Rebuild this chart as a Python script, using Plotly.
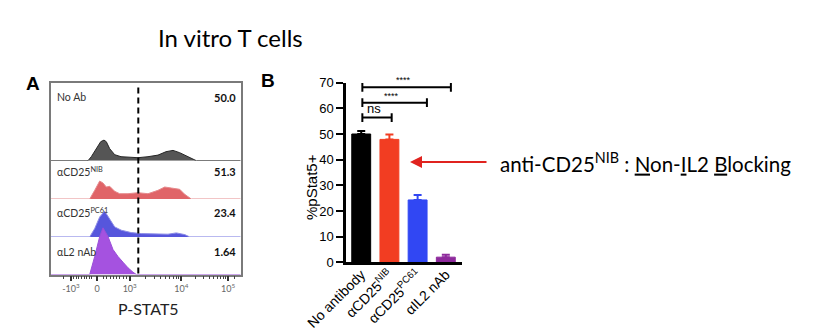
import numpy as np
import plotly.graph_objects as go

W, H = 822, 333
def px(x): return x / W
def py(y): return 1 - y / H

# ---------------- Panel A data (flow histograms, channel units / normalized counts)
hist_names = ["No Ab", "αCD25<sup>NIB</sup>", "αCD25<sup>PC61</sup>", "αL2 nAb"]
hist_pct = ["50.0", "51.3", "23.4", "1.64"]

noab_x = [0, 37.3, 40.6, 45.6, 50.0, 53.3, 55.6, 59.0, 64.0, 70.3, 77.3, 87.3, 97.3, 107.3, 115.3, 122.3, 129.0, 137.3, 145.6, 190]
noab_y = [0, 0, 4, 12, 19, 20.6, 19, 12, 6, 4, 3.3, 3, 4, 5.6, 9, 10.3, 8, 4, 0, 0]

nib_x = [0, 39.0, 44.0, 49.0, 52.3, 55.6, 59.0, 64.0, 69.0, 77.3, 87.3, 97.3, 107.3, 114.0, 120.6, 129.0, 134.0, 140.6, 190]
nib_y = [0, 0, 8.7, 18, 16, 12, 12.7, 7.7, 5.3, 5.3, 6.3, 5.3, 8.7, 12, 11, 9.7, 4.7, 0, 0]

pc61_x = [0, 39.0, 44.0, 49.0, 54.0, 59.0, 64.0, 70.6, 80.6, 90.6, 104.0, 117.3, 125.6, 134.0, 139.0, 190]
pc61_y = [0, 0, 8.3, 20, 25.7, 18.3, 10, 6.7, 4.3, 3.3, 3.3, 2.7, 4, 2.3, 0, 0]

il2_x = [0, 39.0, 44.0, 49.0, 52.3, 57.3, 62.3, 67.3, 72.3, 77.3, 82.3, 85.6, 190]
il2_y = [0, 0, 18, 38, 46.7, 38, 25, 18, 12.3, 6.7, 2.3, 0, 0]

axis_ticktext = ["-10<sup>3</sup>", "0", "10<sup>3</sup>", "10<sup>4</sup>", "10<sup>5</sup>"]
gate_channel = 87.6

# ---------------- Panel B data
categories = ["No antibody", "αCD25<sup>NIB</sup>", "αCD25<sup>PC61</sup>", "αIL2 nAb"]
pstat5 = [50.0, 47.9, 24.3, 2.0]
pstat5_err = [1.2, 1.9, 1.9, 0.9]
bar_colors = ["#000000", "#f23d22", "#3147f3", "#8e2a9c"]
comparisons = [("ns", 56.4), ("****", 62.2), ("****", 68.2)]

fig = go.Figure()

# ---------------- Panel A layout geometry
box_top, box_bot = 82.7, 274.5
xl, xr = 50.7, 240.7
baselines = [160.7, 199.0, 236.9, box_bot]
fills = ["#555555", "#e06468", "#5656dc", "#a552e0"]
lines = ["#262626", "#e58a8d", "#8d8de6", "#9a50d8"]
series = [(noab_x, noab_y), (nib_x, nib_y), (pc61_x, pc61_y), (il2_x, il2_y)]

tickpos = [20.3, 46.3, 79.0, 130.6, 177.3]
minor = []
for a, b in [(tickpos[2], tickpos[3]), (tickpos[3], tickpos[4])]:
    for k in range(2, 10):
        minor.append(a + (b - a) * np.log10(k))
for k in range(2, 10):
    minor.append(tickpos[1] + (tickpos[2] - tickpos[1]) * k / 10)
    minor.append(tickpos[1] - (tickpos[1] - tickpos[0]) * k / 10)
minor += [tickpos[4] + 6, tickpos[0] - 8]

for i, ((xs, ys), bl) in enumerate(zip(series, baselines)):
    yname = "y%d" % (i + 2)
    fig.add_trace(go.Scatter(x=xs, y=ys, mode="lines", fill="tozeroy",
                             fillcolor=fills[i], line=dict(color=lines[i], width=1),
                             xaxis="x2", yaxis=yname, showlegend=False,
                             hoverinfo="skip", cliponaxis=False))
    ax = dict(domain=[py(bl), py(box_top)], range=[0, bl - box_top],
              anchor="x2", showgrid=False, zeroline=False, showticklabels=False,
              ticks="", fixedrange=True, automargin=False)
    if i == 3:
        ax.update(showline=True, mirror=True, linecolor="#7a7a7a", linewidth=1.5)
    else:
        ax.update(visible=False)
    fig.layout["yaxis%d" % (i + 2)] = ax

fig.update_layout(xaxis2=dict(
    domain=[px(xl), px(xr)], range=[0, xr - xl], anchor="y5", automargin=False,
    showline=True, mirror=True, linecolor="#7a7a7a", linewidth=1.5,
    showgrid=False, zeroline=False,
    tickmode="array", tickvals=tickpos, ticktext=axis_ticktext,
    ticks="outside", ticklen=5, tickwidth=1.5, tickcolor="#333",
    tickfont=dict(family="Lato", size=9, color="#666"),
    minor=dict(tickmode="array", tickvals=minor, ticks="outside", ticklen=3,
               tickwidth=1, tickcolor="#444"),
))

fig.add_shape(type="line", xref="x2", yref="paper", x0=gate_channel, x1=gate_channel,
              y0=py(box_bot - 1), y1=py(box_top + 1),
              line=dict(color="black", width=2, dash="6px,4px"))

def note(x, y, text, size, family="Lato", color="black", xanchor="center",
         yanchor="middle", **kw):
    fig.add_annotation(x=px(x), y=py(y), xref="paper", yref="paper", text=text,
                       showarrow=False, xanchor=xanchor, yanchor=yanchor,
                       font=dict(family=family, size=size, color=color), **kw)

label_y = [97, 171.7, 212, 251.5]
for name, pct, ly in zip(hist_names, hist_pct, label_y):
    note(55, ly, name, 10.5, color="#333", xanchor="left")
    note(237.5, ly, "<b>%s</b>" % pct, 11, color="#111", xanchor="right")

note(148, 308, "P-STAT5", 16, color="#222")

# ---------------- Panel B
for i in range(4):
    fig.add_trace(go.Bar(x=[i], y=[pstat5[i]], width=0.67,
                         marker=dict(color=bar_colors[i], line=dict(color=bar_colors[i], width=1)),
                         error_y=dict(type="data", array=[pstat5_err[i]], arrayminus=[0],
                                      symmetric=False, color=bar_colors[i], thickness=2, width=4),
                         xaxis="x", yaxis="y", showlegend=False, hoverinfo="skip"))

fig.update_layout(
    barmode="overlay",
    xaxis=dict(domain=[px(346), px(462)], range=[-0.54, 3.574], anchor="y", automargin=False,
               tickmode="array", tickvals=[0, 1, 2, 3], ticktext=categories,
               tickangle=-45, ticks="", showline=True, linecolor="black", linewidth=2.5,
               showgrid=False, zeroline=False, ticklabelstandoff=-4,
               tickfont=dict(family="Liberation Sans", size=14, color="black")),
    yaxis=dict(domain=[py(262.3), py(82.7)], range=[0, 70], anchor="x", automargin=False,
               tickmode="array", tickvals=list(range(0, 71, 10)),
               ticks="outside", ticklen=7, tickwidth=2, tickcolor="black",
               showline=True, linecolor="black", linewidth=2.5,
               showgrid=False, zeroline=False,
               tickfont=dict(family="Liberation Sans", size=13, color="black")),
)

bracket_ends = [(0.04, 1.08), (0.04, 2.33), (0.04, 3.18)]
for (lab, yv), (xa, xb) in zip(comparisons, bracket_ends):
    fig.add_shape(type="line", xref="x", yref="y", x0=xa, x1=xb, y0=yv, y1=yv,
                  line=dict(color="black", width=2))
    for xe in (xa, xb):
        fig.add_shape(type="line", xref="x", yref="y", x0=xe, x1=xe,
                      y0=yv - 1.7, y1=yv + 1.7, line=dict(color="black", width=2))
    fig.add_annotation(x=(xa + xb) / 2 - 0.1, y=yv, xref="x", yref="y", text=lab,
                       showarrow=False, xanchor="center", yanchor="bottom",
                       font=dict(family="Liberation Sans", size=13 if lab == "ns" else 9,
                                 color="black"))

note(311, 187, "%pStat5+", 15, family="Liberation Sans", textangle=-90)

# panel letters and titles
note(33, 83, "<b>A</b>", 19, family="Liberation Sans")
note(268, 80, "<b>B</b>", 19, family="Liberation Sans")
note(156, 38, "In vitro T cells", 24, xanchor="left")

fig.add_annotation(x=px(410), y=py(162), xref="paper", yref="paper", text="",
                   showarrow=True, ax=78, ay=0, arrowhead=2, arrowsize=1.2,
                   arrowwidth=2, arrowcolor="#e0231f", standoff=0)
note(498, 162, "anti-CD25<sup>NIB</sup> : <u>N</u>on-<u>I</u>L2 <u>B</u>locking", 20.5,
     xanchor="left")

fig.update_layout(width=W, height=H, autosize=False,
                  margin=dict(l=0, r=0, t=0, b=0, autoexpand=False),
                  paper_bgcolor="white", plot_bgcolor="rgba(0,0,0,0)")

fig.write_html("out.html")
